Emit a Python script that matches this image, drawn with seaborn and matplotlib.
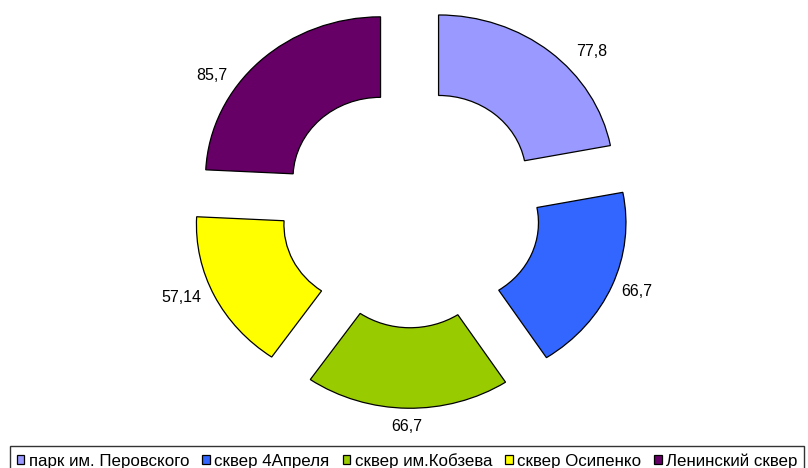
import matplotlib
matplotlib.use("Agg")
import numpy as np
import matplotlib.pyplot as plt
import seaborn as sns

# Data
parks = ["парк им. Перовского", "сквер 4Апреля", "сквер им.Кобзева",
         "сквер Осипенко", "Ленинский сквер"]
shares = [77.8, 66.7, 66.7, 57.14, 85.7]
share_labels = ["77,8", "66,7", "66,7", "57,14", "85,7"]
colors = ["#9999FF", "#3366FF", "#99CC00", "#FFFF00", "#660066"]

# Small per-label nudges (pixels) away from the outer rim of each ring segment
label_nudge = [(42, 0), (25, -6), (-1, -18), (-33, -2), (-48, -14)]

sns.set_theme(style="white")
plt.rcParams["font.family"] = ["Liberation Sans", "DejaVu Sans"]

W, H = 808, 468
fig = plt.figure(figsize=(W / 100, H / 100), dpi=100)
ax = fig.add_axes([0, 0, 1, 1])

wedges, _ = ax.pie(
    shares,
    colors=colors,
    startangle=90,
    counterclock=False,
    radius=1.0,
    explode=[0.25] * len(shares),
    wedgeprops=dict(width=0.5, edgecolor="black", linewidth=0.9),
)

# slightly wider than tall, centred left of the middle
cx, cy, sx, sy = 410.7, 207.0, 175.0, 161.0
ax.set_aspect("auto")
ax.set_xlim(-cx / sx, (W - cx) / sx)
ax.set_ylim(-(H - cy) / sy, cy / sy)
ax.axis("off")

for w, txt, (dx, dy) in zip(wedges, share_labels, label_nudge):
    mid = np.deg2rad((w.theta1 + w.theta2) / 2)
    x0, y0 = w.center
    ax.annotate(txt, xy=(x0 + w.r * np.cos(mid), y0 + w.r * np.sin(mid)),
                xytext=(dx, dy), textcoords="offset pixels",
                ha="center", va="center", fontsize=11.5, color="black")

leg = fig.legend(
    wedges, parks,
    loc="upper left",
    bbox_to_anchor=(10 / W, 1 - 446 / H),
    bbox_transform=fig.transFigure,
    ncol=5, frameon=True, fancybox=False, shadow=False,
    fontsize=12.2, handlelength=0.45, handleheight=0.45,
    handletextpad=0.25, columnspacing=0.78, borderpad=0.4, borderaxespad=0,
)
leg.get_frame().set_edgecolor("black")
leg.get_frame().set_linewidth(1.0)
leg.get_frame().set_facecolor("white")
for t in leg.get_texts():
    t.set_color("black")

fig.savefig("out.png", dpi=100, facecolor="white")
